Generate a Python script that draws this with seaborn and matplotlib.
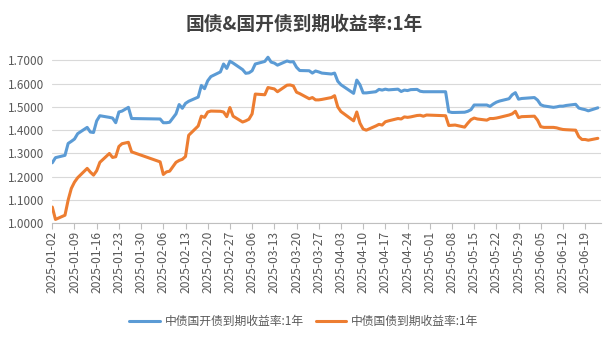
import matplotlib
matplotlib.use("Agg")
import matplotlib.pyplot as plt
import matplotlib.dates as mdates
import seaborn as sns
import pandas as pd

title = "国债&国开债到期收益率:1年"
series_cdb = "中债国开债到期收益率:1年"
series_gov = "中债国债到期收益率:1年"

dates = [
    "2025-01-02", "2025-01-03", "2025-01-06", "2025-01-07", "2025-01-08", "2025-01-09",
    "2025-01-10", "2025-01-13", "2025-01-14", "2025-01-15", "2025-01-16", "2025-01-17",
    "2025-01-20", "2025-01-21", "2025-01-22", "2025-01-23", "2025-01-24", "2025-01-26",
    "2025-01-27",
    "2025-02-05", "2025-02-06", "2025-02-07", "2025-02-08", "2025-02-10", "2025-02-11",
    "2025-02-12", "2025-02-13", "2025-02-14", "2025-02-17", "2025-02-18", "2025-02-19",
    "2025-02-20", "2025-02-21", "2025-02-24", "2025-02-25", "2025-02-26", "2025-02-27",
    "2025-02-28",
    "2025-03-03", "2025-03-04", "2025-03-05", "2025-03-06", "2025-03-07", "2025-03-10",
    "2025-03-11", "2025-03-12", "2025-03-13", "2025-03-14", "2025-03-17", "2025-03-18",
    "2025-03-19", "2025-03-20", "2025-03-21", "2025-03-24", "2025-03-25", "2025-03-26",
    "2025-03-27", "2025-03-28", "2025-03-31",
    "2025-04-01", "2025-04-02", "2025-04-03", "2025-04-07", "2025-04-08", "2025-04-09",
    "2025-04-10", "2025-04-11", "2025-04-14", "2025-04-15", "2025-04-16", "2025-04-17",
    "2025-04-18", "2025-04-21", "2025-04-22", "2025-04-23", "2025-04-24", "2025-04-25",
    "2025-04-27", "2025-04-28", "2025-04-29", "2025-04-30",
    "2025-05-06", "2025-05-07", "2025-05-08", "2025-05-09", "2025-05-12", "2025-05-13",
    "2025-05-14", "2025-05-15", "2025-05-16", "2025-05-19", "2025-05-20", "2025-05-21",
    "2025-05-22", "2025-05-23", "2025-05-26", "2025-05-27", "2025-05-28", "2025-05-29",
    "2025-05-30",
    "2025-06-03", "2025-06-04", "2025-06-05", "2025-06-06", "2025-06-09", "2025-06-10",
    "2025-06-11", "2025-06-12", "2025-06-13", "2025-06-16", "2025-06-17", "2025-06-18",
    "2025-06-19", "2025-06-20", "2025-06-23",
]

cdb_yield = [
    1.260, 1.282, 1.292, 1.343, 1.352, 1.362,
    1.385, 1.412, 1.392, 1.390, 1.440, 1.462,
    1.455, 1.452, 1.432, 1.478, 1.482, 1.498,
    1.450,
    1.448, 1.432, 1.432, 1.434, 1.470, 1.510,
    1.494, 1.515, 1.524, 1.542, 1.592, 1.578,
    1.612, 1.630, 1.650, 1.684, 1.665, 1.696,
    1.688,
    1.660, 1.644, 1.646, 1.655, 1.684, 1.695,
    1.713, 1.692, 1.688, 1.679, 1.697, 1.693,
    1.694, 1.670, 1.656, 1.655, 1.645, 1.654,
    1.650, 1.645, 1.641,
    1.645, 1.610, 1.595, 1.558, 1.615, 1.595,
    1.560, 1.560, 1.565, 1.575, 1.572, 1.576,
    1.573, 1.576, 1.566, 1.572, 1.570, 1.574,
    1.575, 1.567, 1.565, 1.565,
    1.565, 1.479, 1.476, 1.476, 1.477, 1.481,
    1.488, 1.508, 1.508, 1.508, 1.502, 1.512,
    1.520, 1.525, 1.535, 1.552, 1.561, 1.533,
    1.536,
    1.540, 1.529, 1.509, 1.504, 1.498, 1.500,
    1.503, 1.503, 1.506, 1.511, 1.495, 1.491,
    1.488, 1.483, 1.496,
]

gov_yield = [
    1.070, 1.017, 1.035, 1.100, 1.150, 1.177,
    1.196, 1.236, 1.220, 1.207, 1.226, 1.262,
    1.300, 1.283, 1.286, 1.330, 1.342, 1.348,
    1.307,
    1.264, 1.210, 1.221, 1.224, 1.262, 1.270,
    1.275, 1.287, 1.378, 1.418, 1.460, 1.455,
    1.478, 1.482, 1.481, 1.478, 1.458, 1.497,
    1.460,
    1.435, 1.440, 1.447, 1.470, 1.555, 1.552,
    1.583, 1.580, 1.577, 1.565, 1.593, 1.594,
    1.590, 1.563, 1.557, 1.535, 1.540, 1.530,
    1.530, 1.532, 1.540,
    1.548, 1.500, 1.480, 1.440, 1.478, 1.430,
    1.405, 1.400, 1.418, 1.425, 1.422, 1.436,
    1.440, 1.450, 1.448, 1.457, 1.455, 1.457,
    1.463, 1.464, 1.460, 1.465,
    1.462, 1.420, 1.421, 1.422, 1.413, 1.430,
    1.445, 1.452, 1.448, 1.443, 1.450, 1.450,
    1.452, 1.455, 1.465, 1.470, 1.481, 1.454,
    1.458,
    1.460, 1.443, 1.415, 1.412, 1.412, 1.410,
    1.406, 1.403, 1.402, 1.400, 1.372, 1.360,
    1.360, 1.357, 1.365,
]

tick_dates = pd.date_range("2025-01-02", "2025-06-19", freq="7D")
y_ticks = [1.0, 1.1, 1.2, 1.3, 1.4, 1.5, 1.6, 1.7]

df = pd.DataFrame({
    "date": pd.to_datetime(dates * 2),
    "value": cdb_yield + gov_yield,
    "series": [series_cdb] * len(dates) + [series_gov] * len(dates),
})

sns.set_theme(style="white")
plt.rcParams["font.family"] = ["Noto Sans CJK SC", "DejaVu Sans"]

fig = plt.figure(figsize=(6.08, 3.40), dpi=100)
ax = fig.add_axes([0.086, 0.343, 0.9025, 0.514])

palette = {series_cdb: "#5B9BD5", series_gov: "#ED7D31"}
sns.lineplot(data=df, x="date", y="value", hue="series", palette=palette,
             linewidth=2.2, ax=ax, legend=True)

ax.set_xlim(pd.Timestamp("2025-01-02"), pd.Timestamp("2025-06-24"))
ax.set_ylim(1.0, 1.75)
ax.set_yticks(y_ticks)
ax.set_yticklabels([f"{v:.4f}" for v in y_ticks])
ax.set_xticks(tick_dates)
ax.xaxis.set_major_formatter(mdates.DateFormatter("%Y-%m-%d"))
ax.tick_params(axis="x", rotation=90, labelsize=8.7, colors="#595959",
               length=4, width=0.8, direction="out", bottom=True, color="#BFBFBF", pad=1.5)
ax.tick_params(axis="y", labelsize=8.5, colors="#595959", length=0, pad=6)

ax.grid(axis="y", color="#D9D9D9", linewidth=0.8)
ax.grid(axis="x", visible=False)
for side in ["top", "right", "left"]:
    ax.spines[side].set_visible(False)
ax.spines["bottom"].set_color("#BFBFBF")
ax.spines["bottom"].set_linewidth(0.8)
ax.set_xlabel("")
ax.set_ylabel("")

handles, labels = ax.get_legend_handles_labels()
ax.get_legend().remove()
fig.legend(handles, labels, loc="center", bbox_to_anchor=(0.5, 0.055), ncol=2,
           frameon=False, fontsize=8.5, handlelength=2.6, columnspacing=1.0,
           handletextpad=0.4, labelcolor="#595959")

fig.suptitle(title, x=0.5, y=0.955, fontsize=13.5, fontweight="bold", color="#404040")

fig.savefig("out.png", dpi=100)
